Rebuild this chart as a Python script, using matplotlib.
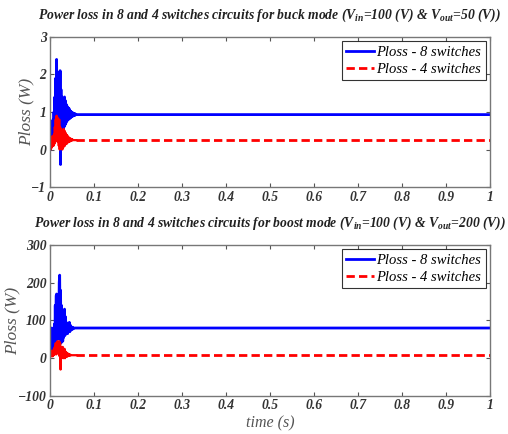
import matplotlib

matplotlib.use("Agg")
import matplotlib.pyplot as plt
import numpy as np

plt.rcParams["font.family"] = ["Liberation Serif", "DejaVu Serif"]
plt.rcParams["mathtext.fontset"] = "custom"
plt.rcParams["mathtext.it"] = "Liberation Serif:italic:bold"
plt.rcParams["mathtext.rm"] = "Liberation Serif:italic:bold"

# transient sampled every 1 ms, then the steady value out to t = 1 s
T_STEP = 0.001
T_END = 1.0

BUCK_8SW = [0.0, 0.3, 0.1, 0.7, 0.2, 0.75, 0.3, 0.8, 0.4, 1.0,
            0.5, 1.4, 0.6, 1.9, 0.7, 2.4, 0.6, 1.9, 0.5, 1.7,
            0.4, 2.05, 0.3, 2.1, -0.4, 1.6, 0.2, 1.4, 0.4, 1.3,
            0.5, 1.35, 0.6, 1.4, 0.65, 1.3, 0.7, 1.2, 0.75, 1.15,
            0.78, 1.1, 0.8, 1.1, 0.82, 1.05, 0.84, 1.02, 0.86, 1.0,
            0.88, 0.98, 0.89, 0.97, 0.9, 0.96, 0.91, 0.95, 0.92, 0.94,
            0.93]
BUCK_4SW = [0.0, 0.1, 0.0, 0.3, 0.05, 0.35, 0.1, 0.3, 0.1, 0.4,
            0.15, 0.6, 0.2, 0.8, 0.25, 0.9, 0.3, 0.85, 0.2, 0.75,
            0.1, 0.8, 0.0, 0.6, 0.05, 0.55, 0.1, 0.5, 0.0, 0.5,
            0.05, 0.55, 0.1, 0.5, 0.1, 0.45, 0.15, 0.4, 0.15, 0.38,
            0.18, 0.34, 0.2, 0.32, 0.21, 0.3, 0.22, 0.29, 0.23, 0.28,
            0.24, 0.27, 0.25, 0.25, 0.25, 0.25, 0.25, 0.25, 0.25, 0.25,
            0.25]
BOOST_8SW = [10, 40, 15, 70, 80, 30, 60, 20, 50, 25,
             90, 30, 140, 40, 165, 170, 60, 165, 50, 150,
             70, 200, 220, 60, 180, 40, 140, 50, 100, 45,
             90, 55, 120, 130, 60, 110, 65, 95, 70, 90,
             65, 88, 70, 85, 95, 70, 88, 74, 84, 76,
             82, 77, 81, 78, 80, 80, 80, 80, 80, 80,
             80]
BOOST_4SW = [0, 15, 5, 20, 10, 15, 5, 20, 8, 25,
             10, 30, 15, 40, 10, 35, 20, 45, 15, 40,
             10, 45, 5, 40, -30, 30, 0, 25, 5, 30,
             0, 20, 2, 25, 0, 18, 3, 15, 4, 14,
             5, 12, 6, 11, 7, 10, 7, 9, 8, 8,
             8, 8, 8, 8, 8, 8, 8, 8, 8, 8,
             8]

PANELS = [
    dict(y8=BUCK_8SW, y4=BUCK_4SW, ylim=(-1, 3), yticks=[-1, 0, 1, 2, 3], ylab_x=-0.036,
         title=r"Power loss in 8 and 4 switches circuits for buck mode ($V_{in}$=100 (V) & $V_{out}$=50 (V))"),
    dict(y8=BOOST_8SW, y4=BOOST_4SW, ylim=(-100, 300), yticks=[-100, 0, 100, 200, 300], ylab_x=-0.068,
         title=r"Power loss in 8 and 4 switches circuits for boost mode ($V_{in}$=100 (V) & $V_{out}$=200 (V))"),
]

fig = plt.figure(figsize=(5.08, 4.34), dpi=100)
boxes = [[0.0984, 0.569, 0.866, 0.346], [0.0984, 0.0876, 0.866, 0.348]]

for box, p in zip(boxes, PANELS):
    ax = fig.add_axes(box)
    n = len(p["y8"])
    t = np.arange(n) * T_STEP
    t_full = np.append(t, T_END)
    y8 = np.append(p["y8"], p["y8"][-1])
    y4 = np.append(p["y4"], p["y4"][-1])

    ax.plot(t_full, y8, color="#0000ff", lw=2.0, label="Ploss - 8 switches")
    ax.plot(t, p["y4"], color="#ff0000", lw=1.6)
    ax.plot(t_full[n - 1:], y4[n - 1:], color="#ff0000", lw=2.0, ls=(0, (3, 1.5)))
    ax.plot([], [], color="#ff0000", lw=2.0, ls=(0, (3, 1.5)), label="Ploss - 4 switches")

    ax.set_xlim(0, 1)
    ax.set_ylim(*p["ylim"])
    ax.set_xticks(np.round(np.arange(0, 1.01, 0.1), 1))
    ax.set_xticklabels(["0"] + [f"{v:.1f}" for v in np.arange(0.1, 0.95, 0.1)] + ["1"])
    ax.set_yticks(p["yticks"])
    ax.tick_params(direction="in", top=True, right=True, length=3, width=0.8,
                   colors="#555555", labelcolor="#333333", labelsize=9.8, pad=2.5)
    for lab in ax.get_xticklabels() + ax.get_yticklabels():
        lab.set_fontstyle("italic")
        lab.set_fontweight("bold")
    for s in ax.spines.values():
        s.set_color("#777777")
        s.set_linewidth(1.0)
    ax.set_ylabel("Ploss (W)", fontstyle="italic", fontsize=12.5, color="#555555")
    ax.yaxis.set_label_coords(p["ylab_x"], 0.5)
    ax.set_title(p["title"], fontsize=9.8, fontweight="bold", fontstyle="italic",
                 color="#222222", loc="center", pad=13)
    leg = ax.legend(loc="upper right", frameon=True, fancybox=False,
                    borderaxespad=0.3, handlelength=1.9, handletextpad=0.15,
                    borderpad=0.3, labelspacing=0.25,
                    prop=dict(family="Liberation Serif", style="italic", size=10.5))
    leg.get_frame().set_edgecolor("black")
    leg.get_frame().set_linewidth(0.8)

ax.set_xlabel("time (s)", fontstyle="italic", fontsize=11.5, color="#555555", labelpad=2)

fig.savefig("out.png", dpi=100)
